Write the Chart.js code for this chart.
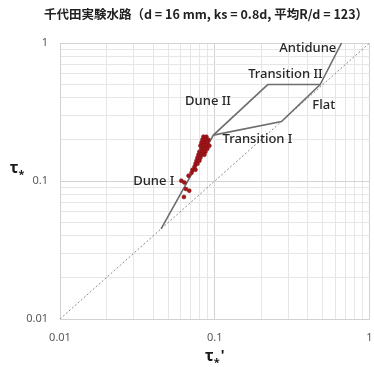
<!DOCTYPE html>
<html>
<head>
<meta charset="utf-8">
<script src="https://cdn.jsdelivr.net/npm/chart.js@4.4.0/dist/chart.umd.min.js"></script>
<style>
  html, body { margin: 0; padding: 0; background: #ffffff; }
  #wrap { width: 374px; height: 367px; position: relative; }
</style>
</head>
<body>
<div id="wrap"><canvas id="c"></canvas></div>
<script>
// Chiyoda experimental channel: bed-form regime diagram, tau*' vs tau*
const chartTitle = '千代田実験水路（d = 16 mm, ks = 0.8d, 平均R/d = 123）';

// labelled ticks on both log axes
const xTickLabels = [0.01, 0.1, 1];
const yTickLabels = [0.01, 0.1, 1];

// grid lines (1..9 in each decade)
const gridValues = [0.01, 0.02, 0.03, 0.04, 0.05, 0.06, 0.07, 0.08, 0.09,
                    0.1, 0.2, 0.3, 0.4, 0.5, 0.6, 0.7, 0.8, 0.9, 1];

// measured points
const tauPrime = [0.0608, 0.0636, 0.0651, 0.0684, 0.0632,
  0.0845, 0.0883,
  0.0832, 0.0870, 0.0909,
  0.0820, 0.0857, 0.0896,
  0.0808, 0.0845, 0.0883, 0.0923,
  0.0820, 0.0857, 0.0896,
  0.0796, 0.0832, 0.0870,
  0.0785, 0.0820, 0.0857,
  0.0773, 0.0808,
  0.0762, 0.0796,
  0.0751, 0.0773,
  0.0740,
  0.0718, 0.0751,
  0.0708,
  0.0677];
const tau = [0.1005, 0.0977, 0.0875, 0.0851, 0.0766,
  0.2094, 0.2094,
  0.1992, 0.1992, 0.1992,
  0.1894, 0.1894, 0.1894,
  0.1802, 0.1802, 0.1802, 0.1802,
  0.1714, 0.1714, 0.1714,
  0.1630, 0.1630, 0.1630,
  0.1551, 0.1551, 0.1551,
  0.1476, 0.1476,
  0.1403, 0.1403,
  0.1334, 0.1334,
  0.1269,
  0.1207, 0.1207,
  0.1148,
  0.1092];

// regime boundaries
const upperX = [0.045, 0.098, 0.22, 0.48, 0.66];
const upperY = [0.045, 0.215, 0.50, 0.50, 1.0];
const lowerX = [0.098, 0.27, 0.48];
const lowerY = [0.215, 0.27, 0.50];
// tau* = tau*' reference line
const equalX = [0.01, 1];
const equalY = [0.01, 1];

// regime names and where they sit
const regimeNames = ['Antidune', 'Transition II', 'Dune II', 'Flat', 'Transition I', 'Dune I'];
const regimeX = [0.399, 0.286, 0.0905, 0.506, 0.189, 0.0404];
const regimeY = [0.909, 0.596, 0.377, 0.351, 0.2015, 0.0993];

const zip = (xs, ys) => xs.map((x, i) => ({ x: x, y: ys[i] }));

function drawTau(ctx, cx, cy, prime) {
  ctx.save();
  ctx.fillStyle = '#1a1a1a';
  ctx.textBaseline = 'alphabetic';
  ctx.font = 'bold 16px "Noto Sans", "DejaVu Sans", sans-serif';
  const wT = ctx.measureText('τ').width;
  ctx.font = 'bold 11px "Noto Sans", "DejaVu Sans", sans-serif';
  const wS = ctx.measureText('*').width;
  ctx.font = 'bold 14px "Noto Sans", "DejaVu Sans", sans-serif';
  const wP = prime ? ctx.measureText("'").width + 1 : 0;
  const total = wT + wS + wP;
  let x = cx - total / 2;
  const base = cy + 5;
  ctx.textAlign = 'left';
  ctx.font = 'bold 16px "Noto Sans", "DejaVu Sans", sans-serif';
  ctx.fillText('τ', x, base);
  x += wT;
  ctx.font = 'bold 11px "Noto Sans", "DejaVu Sans", sans-serif';
  ctx.fillText('*', x, base + 5);
  x += wS;
  if (prime) {
    ctx.font = 'bold 14px "Noto Sans", "DejaVu Sans", sans-serif';
    ctx.fillText("'", x + 1, base - 1);
  }
  ctx.restore();
}

const textPlugin = {
  id: 'textPlugin',
  afterDraw(chart) {
    const ctx = chart.ctx;
    const xs = chart.scales.x;
    const ys = chart.scales.y;
    ctx.save();
    // title
    ctx.fillStyle = '#222222';
    ctx.font = 'bold 12.5px "Noto Sans CJK JP", "Noto Sans", sans-serif';
    ctx.textAlign = 'center';
    ctx.textBaseline = 'middle';
    ctx.fillText(chartTitle, 206, 14);

    // tick labels
    ctx.fillStyle = '#595959';
    ctx.font = '11px "Noto Sans", "DejaVu Sans", sans-serif';
    ctx.textAlign = 'right';
    ctx.textBaseline = 'middle';
    yTickLabels.forEach(v => ctx.fillText(String(v), 48, ys.getPixelForValue(v)));
    ctx.textAlign = 'center';
    xTickLabels.forEach(v => ctx.fillText(String(v), xs.getPixelForValue(v), 338));

    // regime labels
    ctx.fillStyle = '#262626';
    ctx.font = '500 13px "Noto Sans", "Open Sans", sans-serif';
    ctx.textAlign = 'center';
    ctx.textBaseline = 'middle';
    regimeNames.forEach((n, i) => {
      ctx.fillText(n, xs.getPixelForValue(regimeX[i]), ys.getPixelForValue(regimeY[i]));
    });
    ctx.restore();

    // axis titles
    drawTau(ctx, 17, 168, false);
    drawTau(ctx, xs.getPixelForValue(0.1), 356, true);
  }
};

const majorSet = new Set(xTickLabels);
const gridColor = c => (c.tick && majorSet.has(c.tick.value)) ? '#d2d2d2' : '#e6e6e6';

new Chart(document.getElementById('c'), {
  type: 'scatter',
  data: {
    datasets: [
      {
        label: 'points',
        data: zip(tauPrime, tau),
        pointRadius: 2,
        pointBackgroundColor: '#a3161a',
        pointBorderColor: '#7e0e10',
        pointBorderWidth: 0.5,
        order: 0
      },
      {
        label: 'upper',
        data: zip(upperX, upperY),
        showLine: true,
        borderColor: '#6e6e6e',
        borderWidth: 1.6,
        pointRadius: 0,
        order: 1
      },
      {
        label: 'lower',
        data: zip(lowerX, lowerY),
        showLine: true,
        borderColor: '#6e6e6e',
        borderWidth: 1.6,
        pointRadius: 0,
        order: 1
      },
      {
        label: 'equal',
        data: zip(equalX, equalY),
        showLine: true,
        borderColor: '#8c8c8c',
        borderWidth: 1,
        borderDash: [2, 2],
        pointRadius: 0,
        order: 2
      }
    ]
  },
  options: {
    responsive: true,
    maintainAspectRatio: false,
    animation: false,
    layout: { padding: { left: 60, top: 43, right: 1, bottom: 48 } },
    plugins: {
      legend: { display: false },
      title: { display: false },
      tooltip: { enabled: false }
    },
    scales: {
      x: {
        type: 'logarithmic',
        min: 0.01,
        max: 1,
        afterBuildTicks: s => { s.ticks = gridValues.map(v => ({ value: v })); },
        ticks: { display: false },
        grid: { color: gridColor, drawTicks: false, lineWidth: 1 },
        border: { color: '#d2d2d2' }
      },
      y: {
        type: 'logarithmic',
        min: 0.01,
        max: 1,
        afterBuildTicks: s => { s.ticks = gridValues.map(v => ({ value: v })); },
        ticks: { display: false },
        grid: { color: gridColor, drawTicks: false, lineWidth: 1 },
        border: { color: '#d2d2d2' }
      }
    }
  },
  plugins: [textPlugin]
});
</script>
</body>
</html>
